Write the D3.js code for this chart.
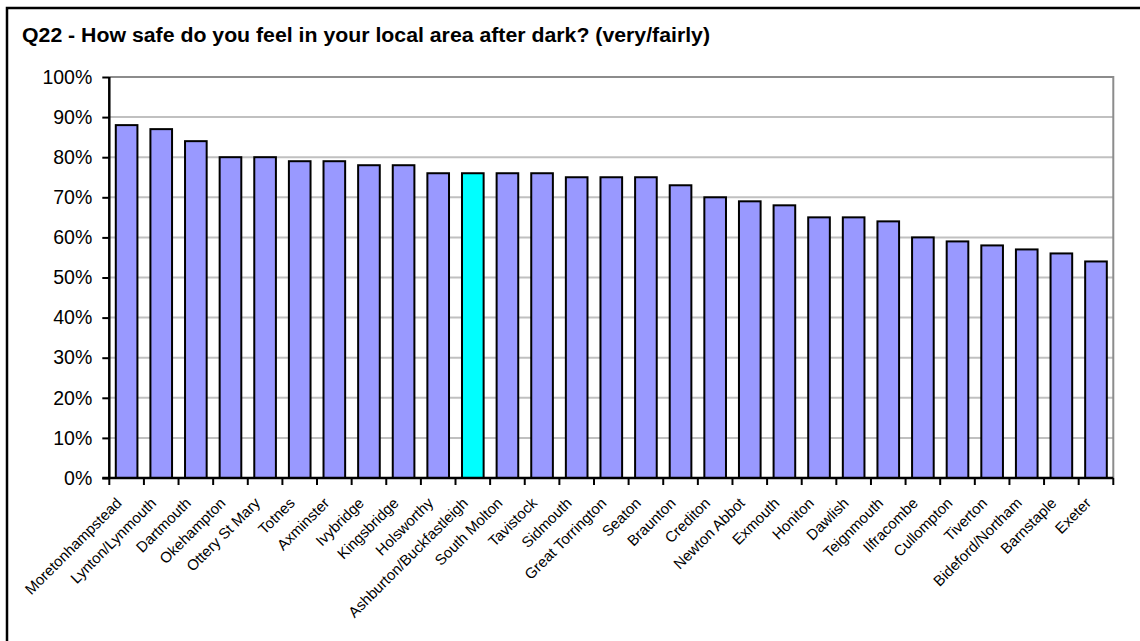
<!DOCTYPE html>
<html>
<head>
<meta charset="utf-8">
<script src="https://cdn.jsdelivr.net/npm/d3@7"></script>
<style>
  html, body { margin: 0; padding: 0; background: #fff; }
  svg { display: block; }
  text { font-family: "Liberation Sans", Arial, sans-serif; }
</style>
</head>
<body>
<script>
const title = "Q22 - How safe do you feel in your local area after dark? (very/fairly)";
const categories = ["Moretonhampstead","Lynton/Lynmouth","Dartmouth","Okehampton","Ottery St Mary","Totnes","Axminster","Ivybridge","Kingsbridge","Holsworthy","Ashburton/Buckfastleigh","South Molton","Tavistock","Sidmouth","Great Torrington","Seaton","Braunton","Crediton","Newton Abbot","Exmouth","Honiton","Dawlish","Teignmouth","Ilfracombe","Cullompton","Tiverton","Bideford/Northam","Barnstaple","Exeter"];
const values = [0.88,0.87,0.84,0.80,0.80,0.79,0.79,0.78,0.78,0.76,0.76,0.76,0.76,0.75,0.75,0.75,0.73,0.70,0.69,0.68,0.65,0.65,0.64,0.60,0.59,0.58,0.57,0.56,0.54];
const highlighted = ["Ashburton/Buckfastleigh"];
const yTicks = [0,0.1,0.2,0.3,0.4,0.5,0.6,0.7,0.8,0.9,1.0];

const W = 1140, H = 641;
const pLeft = 109.3, pRight = 1113.3, pTop = 77, pBottom = 478;

const svg = d3.select("body").append("svg").attr("width", W).attr("height", H);

// outer chart border (extends beyond the viewport on right/bottom)
svg.append("rect").attr("x", 7).attr("y", 8).attr("width", 1200).attr("height", 700)
  .attr("fill", "none").attr("stroke", "#000").attr("stroke-width", 2.5);

svg.append("text").attr("x", 22).attr("y", 42)
  .attr("font-size", 20).attr("font-weight", "bold").attr("fill", "#000")
  .attr("textLength", 688).attr("lengthAdjust", "spacingAndGlyphs").text(title);

const x = d3.scaleBand().domain(categories).range([pLeft, pRight]).paddingInner(0.375).paddingOuter(0.1875);
const y = d3.scaleLinear().domain([0, 1]).range([pBottom, pTop]);

// gridlines
svg.append("g").selectAll("line").data(yTicks.filter(t => t > 0 && t < 1)).join("line")
  .attr("x1", pLeft).attr("x2", pRight).attr("y1", d => y(d)).attr("y2", d => y(d))
  .attr("stroke", "#c0c0c0").attr("stroke-width", 2);

// plot area border (top/right)
svg.append("path").attr("d", `M${pLeft},${y(1)}H${pRight}V${pBottom}`)
  .attr("fill", "none").attr("stroke", "#8c8c8c").attr("stroke-width", 2);

// bars
svg.append("g").selectAll("rect").data(categories).join("rect")
  .attr("x", d => x(d)).attr("width", x.bandwidth())
  .attr("y", (d, i) => y(values[i])).attr("height", (d, i) => y(0) - y(values[i]))
  .attr("fill", d => highlighted.includes(d) ? "#00ffff" : "#9999ff")
  .attr("stroke", "#000").attr("stroke-width", 2);

// y axis
const yAxis = d3.axisLeft(y).tickValues(yTicks).tickFormat(d3.format(".0%")).tickSize(7).tickPadding(10);
const gy = svg.append("g").attr("transform", `translate(${pLeft},0)`).call(yAxis);
gy.select(".domain").attr("stroke", "#000").attr("stroke-width", 2.5).attr("d", `M0,${pTop}V${pBottom}`);
gy.selectAll(".tick line").attr("stroke", "#000").attr("stroke-width", 2);
gy.selectAll(".tick text").attr("font-size", 19.5).attr("fill", "#000")
  .attr("font-family", "'Liberation Sans', Arial, sans-serif");

// x axis
const gx = svg.append("g").attr("transform", `translate(0,${pBottom})`);
gx.append("line").attr("x1", pLeft - 7).attr("x2", pRight).attr("y1", 0).attr("y2", 0)
  .attr("stroke", "#000").attr("stroke-width", 2.5);
const step = x.step();
gx.selectAll("line.tk").data(d3.range(categories.length + 1)).join("line").attr("class", "tk")
  .attr("x1", i => pLeft + i * step).attr("x2", i => pLeft + i * step)
  .attr("y1", 0).attr("y2", 7).attr("stroke", "#000").attr("stroke-width", 2);

svg.append("g").selectAll("text").data(categories).join("text")
  .attr("transform", d => `translate(${x(d) + x.bandwidth() / 2 - 4},${pBottom + 26}) rotate(-45)`)
  .attr("text-anchor", "end").attr("font-size", 15).attr("fill", "#000").text(d => d);
</script>
</body>
</html>
